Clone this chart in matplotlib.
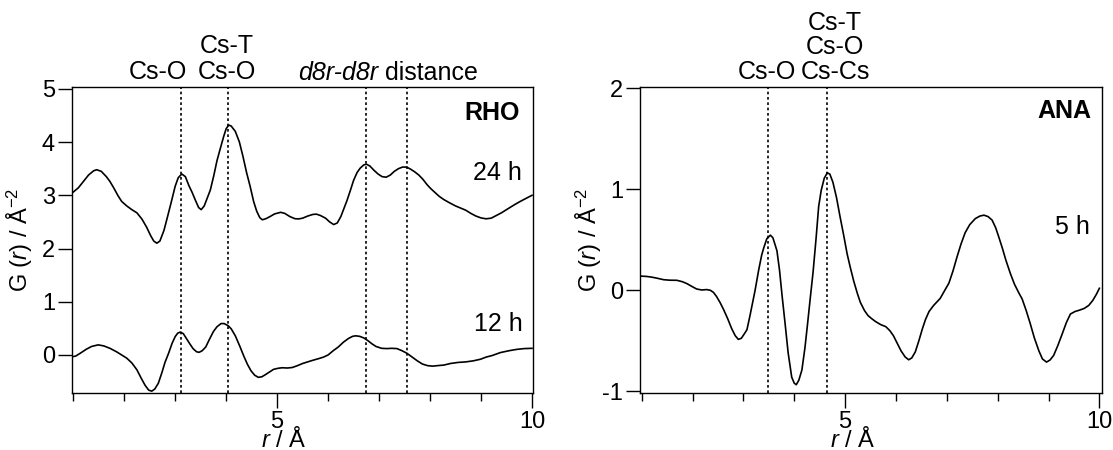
import matplotlib
matplotlib.use("Agg")
import matplotlib.pyplot as plt
from matplotlib.ticker import MultipleLocator, FixedLocator
from matplotlib.transforms import blended_transform_factory

# ---------------- data ----------------
rho24_r = [1.00, 1.10, 1.20, 1.30, 1.40, 1.46, 1.55, 1.65, 1.72, 1.80, 1.88, 1.95, 2.05, 2.15, 2.25,
           2.35, 2.44, 2.52, 2.58, 2.64, 2.70, 2.78, 2.84, 2.92, 3.00, 3.06, 3.13, 3.20, 3.27, 3.33,
           3.40, 3.46, 3.51, 3.57, 3.63, 3.69, 3.76, 3.82, 3.88, 3.95, 4.00, 4.05, 4.10, 4.18, 4.26,
           4.33, 4.40, 4.47, 4.54, 4.60, 4.66, 4.71, 4.78, 4.86, 4.95, 5.07, 5.15, 5.25, 5.35, 5.42,
           5.50, 5.60, 5.70, 5.77, 5.85, 5.95, 6.03, 6.11, 6.18, 6.25, 6.31, 6.37, 6.44, 6.50, 6.57,
           6.63, 6.70, 6.75, 6.82, 6.90, 6.98, 7.06, 7.14, 7.22, 7.30, 7.38, 7.46, 7.54, 7.62, 7.70,
           7.78, 7.86, 7.95, 8.02, 8.10, 8.18, 8.27, 8.38, 8.50, 8.60, 8.70, 8.80, 8.90, 9.00, 9.10,
           9.20, 9.30, 9.40, 9.50, 9.60, 9.71, 9.80, 9.90, 10.0]
rho24_g = [3.06, 3.14, 3.26, 3.38, 3.46, 3.48, 3.45, 3.35, 3.26, 3.13, 2.99, 2.885, 2.80, 2.73, 2.67,
           2.55, 2.40, 2.24, 2.14, 2.10, 2.14, 2.34, 2.56, 2.86, 3.17, 3.33, 3.40, 3.35, 3.18, 3.06,
           2.90, 2.77, 2.73, 2.80, 2.95, 3.10, 3.38, 3.65, 3.86, 4.10, 4.25, 4.32, 4.30, 4.20, 4.00,
           3.73, 3.43, 3.17, 2.88, 2.70, 2.58, 2.54, 2.56, 2.60, 2.65, 2.68, 2.66, 2.60, 2.56, 2.556,
           2.57, 2.61, 2.64, 2.646, 2.62, 2.57, 2.50, 2.45, 2.48, 2.60, 2.75, 2.90, 3.10, 3.28, 3.43,
           3.51, 3.57, 3.585, 3.55, 3.47, 3.40, 3.35, 3.34, 3.38, 3.45, 3.50, 3.53, 3.53, 3.49, 3.44,
           3.38, 3.30, 3.19, 3.12, 3.05, 2.98, 2.92, 2.86, 2.80, 2.76, 2.72, 2.66, 2.61, 2.575, 2.558,
           2.57, 2.62, 2.67, 2.73, 2.79, 2.853, 2.90, 2.95, 3.00]

rho12_r = [1.00, 1.05, 1.15, 1.26, 1.36, 1.49, 1.60, 1.72, 1.85, 1.95, 2.05, 2.15, 2.25, 2.33, 2.41,
           2.48, 2.54, 2.60, 2.67, 2.74, 2.80, 2.87, 2.94, 3.00, 3.05, 3.10, 3.16, 3.22, 3.28, 3.35,
           3.42, 3.47, 3.53, 3.60, 3.67, 3.75, 3.82, 3.90, 3.96, 4.04, 4.10, 4.18, 4.27, 4.35, 4.42,
           4.49, 4.56, 4.63, 4.70, 4.77, 4.85, 4.93, 5.02, 5.10, 5.20, 5.30, 5.40, 5.50, 5.60, 5.70,
           5.81, 5.91, 6.00, 6.10, 6.20, 6.30, 6.40, 6.48, 6.54, 6.62, 6.70, 6.78, 6.86, 6.94, 7.05,
           7.15, 7.25, 7.35, 7.45, 7.55, 7.65, 7.75, 7.85, 7.95, 8.05, 8.15, 8.27, 8.40, 8.55, 8.70,
           8.85, 8.99, 9.10, 9.22, 9.38, 9.55, 9.70, 9.85, 10.0]
rho12_g = [-0.03, -0.02, 0.04, 0.11, 0.16, 0.19, 0.17, 0.125, 0.06, 0.00, -0.06, -0.15, -0.28, -0.43, -0.57,
           -0.66, -0.68, -0.64, -0.53, -0.33, -0.14, 0.03, 0.22, 0.345, 0.41, 0.43, 0.40, 0.31, 0.22, 0.12,
           0.06, 0.05, 0.08, 0.15, 0.29, 0.44, 0.53, 0.59, 0.59, 0.55, 0.49, 0.36, 0.16, -0.03, -0.18,
           -0.30, -0.38, -0.42, -0.41, -0.37, -0.32, -0.27, -0.25, -0.24, -0.245, -0.235, -0.20, -0.16, -0.13, -0.10,
           -0.07, -0.04, 0.00, 0.08, 0.15, 0.24, 0.31, 0.35, 0.36, 0.35, 0.32, 0.27, 0.21, 0.16, 0.125,
           0.12, 0.125, 0.12, 0.08, 0.03, -0.04, -0.11, -0.17, -0.20, -0.21, -0.20, -0.19, -0.16, -0.14, -0.13,
           -0.11, -0.08, -0.04, -0.01, 0.045, 0.08, 0.105, 0.12, 0.125]

ana5_r = [1.00, 1.10, 1.20, 1.30, 1.43, 1.55, 1.69, 1.80, 1.89, 1.98, 2.08, 2.18, 2.28, 2.35, 2.41,
          2.47, 2.54, 2.61, 2.69, 2.77, 2.84, 2.90, 2.96, 3.02, 3.07, 3.13, 3.19, 3.23, 3.30, 3.36,
          3.40, 3.46, 3.53, 3.58, 3.63, 3.66, 3.71, 3.76, 3.82, 3.88, 3.95, 4.00, 4.04, 4.09, 4.15,
          4.21, 4.26, 4.31, 4.37, 4.43, 4.48, 4.53, 4.59, 4.65, 4.70, 4.76, 4.83, 4.90, 4.97, 5.04,
          5.10, 5.17, 5.24, 5.30, 5.38, 5.45, 5.52, 5.60, 5.70, 5.80, 5.88, 5.95, 6.02, 6.10, 6.18,
          6.25, 6.31, 6.38, 6.45, 6.52, 6.58, 6.65, 6.74, 6.87, 6.96, 7.04, 7.12, 7.20, 7.28, 7.36,
          7.45, 7.56, 7.65, 7.73, 7.81, 7.89, 7.96, 8.02, 8.09, 8.16, 8.25, 8.33, 8.42, 8.48, 8.56,
          8.64, 8.72, 8.81, 8.88, 8.96, 9.03, 9.10, 9.18, 9.27, 9.35, 9.43, 9.52, 9.60, 9.70, 9.79,
          9.87, 9.94, 10.0]
ana5_g = [0.14, 0.137, 0.13, 0.12, 0.105, 0.10, 0.099, 0.085, 0.066, 0.04, 0.013, 0.003, 0.007, 0.00, -0.02,
          -0.06, -0.12, -0.19, -0.28, -0.38, -0.45, -0.486, -0.475, -0.43, -0.39, -0.25, -0.10, 0.00, 0.20, 0.35,
          0.42, 0.51, 0.546, 0.52, 0.44, 0.39, 0.20, -0.05, -0.33, -0.62, -0.86, -0.92, -0.935, -0.89, -0.79,
          -0.57, -0.34, -0.10, 0.18, 0.52, 0.83, 0.99, 1.11, 1.164, 1.15, 1.07, 0.92, 0.73, 0.55, 0.36,
          0.23, 0.09, -0.03, -0.12, -0.20, -0.25, -0.28, -0.31, -0.34, -0.36, -0.40, -0.45, -0.52, -0.60, -0.66,
          -0.688, -0.67, -0.61, -0.50, -0.38, -0.29, -0.21, -0.15, -0.08, 0.00, 0.07, 0.19, 0.33, 0.46, 0.57,
          0.65, 0.71, 0.735, 0.744, 0.73, 0.695, 0.62, 0.53, 0.42, 0.30, 0.165, 0.06, -0.03, -0.085, -0.20,
          -0.33, -0.47, -0.60, -0.68, -0.711, -0.69, -0.645, -0.55, -0.43, -0.32, -0.235, -0.21, -0.198, -0.18, -0.15,
          -0.10, -0.04, 0.02]

rho_marks = [3.12, 4.03, 6.74, 7.55]
ana_marks = [3.48, 4.65]

# ---------------- style ----------------
plt.rcParams['font.family'] = ['Liberation Sans', 'DejaVu Sans']
plt.rcParams['mathtext.fontset'] = 'custom'
plt.rcParams['mathtext.rm'] = 'Liberation Sans'
plt.rcParams['mathtext.it'] = 'Liberation Sans:italic'
plt.rcParams['mathtext.bf'] = 'Liberation Sans:bold'
plt.rcParams['axes.unicode_minus'] = False

W, H = 1113, 450
fig = plt.figure(figsize=(W / 100, H / 100), dpi=100)

top_px, bot_px = 86.7, 393.3
axL = fig.add_axes([71.7 / W, (H - bot_px) / H, (533.0 - 71.7) / W, (bot_px - top_px) / H])
axR = fig.add_axes([640.0 / W, (H - bot_px) / H, (1101.7 - 640.0) / W, (bot_px - top_px) / H])

FS_TICK = 17
FS_TXT = 18
FS_LAB = 17
dot = (0, (1.6, 1.6))

def style(ax):
    for s in ax.spines.values():
        s.set_linewidth(1.0)
    ax.xaxis.set_major_locator(FixedLocator([5, 10]))
    ax.xaxis.set_minor_locator(MultipleLocator(1))
    ax.tick_params(axis='x', which='major', direction='out', length=11, width=1.0,
                   labelsize=FS_TICK, pad=1.5, top=False)
    ax.tick_params(axis='x', which='minor', direction='out', length=6, width=1.0, top=False)
    ax.tick_params(axis='y', which='major', direction='out', length=10, width=1.0,
                   labelsize=FS_TICK, pad=2, right=False)

# ---- left: RHO ----
axL.plot(rho24_r, rho24_g, color='k', lw=1.2)
axL.plot(rho12_r, rho12_g, color='k', lw=1.2)
for xm in rho_marks:
    axL.axvline(xm, color='k', lw=1.2, ls=dot)
axL.set_xlim(0.97, 10.02)
axL.set_ylim(-0.72, 5.04)
axL.yaxis.set_major_locator(MultipleLocator(1))
style(axL)

trL = blended_transform_factory(axL.transData, axL.transAxes)
axL.text(2.67, 1.024, 'Cs-O', transform=trL, ha='center', va='baseline', fontsize=FS_TXT)
axL.text(4.02, 1.024, 'Cs-O', transform=trL, ha='center', va='baseline', fontsize=FS_TXT)
axL.text(4.02, 1.109, 'Cs-T', transform=trL, ha='center', va='baseline', fontsize=FS_TXT)

# "d8r-d8r distance": italic part + regular part, centred as a whole
t_it = axL.text(7.17, 1.022, 'd8r-d8r', transform=trL, ha='left', va='baseline',
                fontsize=FS_TXT, fontstyle='italic')
t_rm = axL.text(7.17, 1.022, ' distance', transform=trL, ha='left', va='baseline',
                fontsize=FS_TXT)
fig.canvas.draw()
rend = fig.canvas.get_renderer()
w_it = t_it.get_window_extent(rend).width
w_rm = t_rm.get_window_extent(rend).width
cx_disp = trL.transform((7.17, 1.022))
start = cx_disp[0] - (w_it + w_rm) / 2.0
inv = trL.inverted()
t_it.set_position(inv.transform((start, cx_disp[1])))
t_rm.set_position(inv.transform((start + w_it, cx_disp[1])))

axL.text(0.972, 0.954, 'RHO', transform=axL.transAxes, ha='right', va='top',
         fontsize=FS_TXT, fontweight='bold')
axL.text(9.81, 3.42, '24 h', ha='right', va='center', fontsize=FS_TXT)
axL.text(9.81, 0.58, '12 h', ha='right', va='center', fontsize=FS_TXT)

# ---- right: ANA ----
axR.plot(ana5_r, ana5_g, color='k', lw=1.2)
for xm in ana_marks:
    axR.axvline(xm, color='k', lw=1.2, ls=dot)
axR.set_xlim(0.967, 10.045)
axR.set_ylim(-1.02, 2.016)
axR.yaxis.set_major_locator(MultipleLocator(1))
style(axR)

trR = blended_transform_factory(axR.transData, axR.transAxes)
axR.text(3.46, 1.024, 'Cs-O', transform=trR, ha='center', va='baseline', fontsize=FS_TXT)
axR.text(4.80, 1.024, 'Cs-Cs', transform=trR, ha='center', va='baseline', fontsize=FS_TXT)
axR.text(4.80, 1.106, 'Cs-O', transform=trR, ha='center', va='baseline', fontsize=FS_TXT)
axR.text(4.80, 1.186, 'Cs-T', transform=trR, ha='center', va='baseline', fontsize=FS_TXT)
axR.text(0.978, 0.960, 'ANA', transform=axR.transAxes, ha='right', va='top',
         fontsize=FS_TXT, fontweight='bold')
axR.text(9.81, 0.63, '5 h', ha='right', va='center', fontsize=FS_TXT)

# ---- axis titles ----
ylab = r'G ($\mathit{r}$) / Å$^{\mathrm{-}2}$'
fig.text(20 / W, (H - 240) / H, ylab, rotation=90, ha='center', va='center', fontsize=FS_LAB)
fig.text(589 / W, (H - 240) / H, ylab, rotation=90, ha='center', va='center', fontsize=FS_LAB)
xlab = r'$\mathit{r}$ / Å'
fig.text(284 / W, (H - 427) / H, xlab, ha='center', va='top', fontsize=FS_LAB)
fig.text(853 / W, (H - 427) / H, xlab, ha='center', va='top', fontsize=FS_LAB)

fig.savefig('out.png', dpi=100)
